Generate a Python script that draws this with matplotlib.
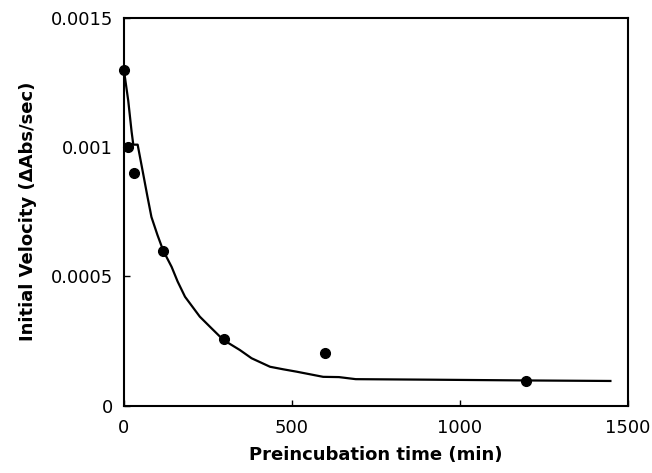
import numpy as np
import matplotlib
matplotlib.use('Agg')
import matplotlib.pyplot as plt

# measured points
time_pts = [0, 12, 31, 116, 298, 598, 1198]
vel_pts = [0.0013, 0.001, 0.0009, 0.0006, 0.000256, 0.000202, 0.0000965]

# fitted curve
fit_time = [0, 13, 23, 28, 41, 57, 70, 82, 100, 117, 142, 160, 182, 226, 260, 296,
            345, 380, 435, 475, 514, 593, 640, 690, 910, 1200, 1448]
fit_vel = [0.00130, 0.00118, 0.00106, 0.00101, 0.00101, 0.00090, 0.00081, 0.00073,
           0.00066, 0.00060, 0.000537, 0.000480, 0.000421, 0.000344, 0.000300,
           0.000254, 0.000215, 0.000183, 0.000150, 0.000140, 0.000131, 0.000111,
           0.000110, 0.000102, 0.000100, 0.000097, 0.000095]

x_ticks = [0, 500, 1000, 1500]
y_ticks = [0, 0.0005, 0.001, 0.0015]
y_tick_labels = ['0', '0.0005', '0.001', '0.0015']

plt.rcParams['font.family'] = ['DejaVu Sans']

fig = plt.figure(figsize=(6.52, 4.73), dpi=100)
ax = fig.add_axes([0.190, 0.1427, 0.773, 0.819])

ax.plot(fit_time, fit_vel, color='black', linewidth=1.6)
ax.plot(time_pts, vel_pts, 'o', color='black', markersize=7, clip_on=False)

ax.set_xlim(0, 1500)
ax.set_ylim(0, 0.0015)
ax.set_xticks(x_ticks)
ax.set_xticklabels([str(t) for t in x_ticks])
ax.set_yticks(y_ticks)
ax.set_yticklabels(y_tick_labels)
ax.tick_params(direction='in', length=4, width=1, labelsize=13, pad=8)
ax.tick_params(axis='x', pad=10)
for s in ax.spines.values():
    s.set_linewidth(1.5)

ax.set_xlabel('Preincubation time (min)', fontsize=13, fontweight='bold', labelpad=6)
ax.set_ylabel('Initial Velocity (\u0394Abs/sec)', fontsize=13, fontweight='bold', labelpad=10)

fig.savefig('out.png', dpi=100)
